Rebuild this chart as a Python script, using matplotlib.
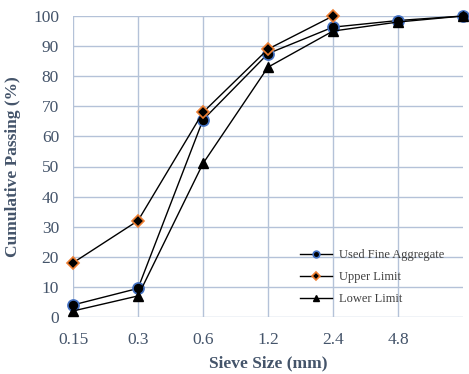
import matplotlib
matplotlib.use("Agg")
import matplotlib.pyplot as plt

sizes = ["0.15", "0.3", "0.6", "1.2", "2.4", "4.8", "9.5"]
used = [4, 9.5, 65.5, 87.5, 96.3, 98.5, 100]
upper = [18, 32, 68, 89, 100]
lower = [2, 7, 51, 83, 95, 98, 100]

text_col = "#44546a"
grid_col = "#b4c2d8"

plt.rcParams["font.family"] = ["Liberation Serif", "DejaVu Serif"]

fig = plt.figure(figsize=(4.69, 3.74), dpi=100)
ax = fig.add_axes([73 / 469, 1 - 317 / 374, 390 / 469, 301 / 374])

x_used = list(range(len(used)))
x_upper = list(range(len(upper)))
x_lower = list(range(len(lower)))

ax.plot(x_used, used, color="black", lw=1, marker="o", ms=8,
        mfc="black", mec="#4472c4", mew=1.2, clip_on=False, zorder=3,
        label="Used Fine Aggregate")
ax.plot(x_upper, upper, color="black", lw=1, marker="D", ms=6.5,
        mfc="black", mec="#ed7d31", mew=1.2, clip_on=False, zorder=4,
        label="Upper Limit")
ax.plot(x_lower, lower, color="black", lw=1, marker="^", ms=7.5,
        mfc="black", mec="black", clip_on=False, zorder=5,
        label="Lower Limit")

ax.set_xlim(0, 6)
ax.set_ylim(0, 100)
ax.set_xticks(range(6))
ax.set_xticklabels(sizes[:6])
ax.set_yticks(range(0, 101, 10))
for s in ax.spines.values():
    s.set_visible(False)
ax.grid(True, color=grid_col, lw=1)
ax.set_axisbelow(True)
ax.tick_params(length=0, labelsize=12.5, colors=text_col)
ax.tick_params(axis="x", pad=11)
ax.tick_params(axis="y", pad=10)

ax.set_xlabel("Sieve Size (mm)", fontsize=12.5, fontweight="bold", color=text_col, labelpad=5)
ax.set_ylabel("Cumulative Passing (%)", fontsize=12.5, fontweight="bold", color=text_col, labelpad=9)

leg = ax.legend(loc="upper left", bbox_to_anchor=(0.582, 0.225), frameon=False,
                fontsize=9, handlelength=2.6, borderpad=0, borderaxespad=0,
                labelspacing=0.8, handletextpad=0.5, markerscale=0.6)
for t in leg.get_texts():
    t.set_color("#404040")

fig.savefig("out.png", dpi=100)
